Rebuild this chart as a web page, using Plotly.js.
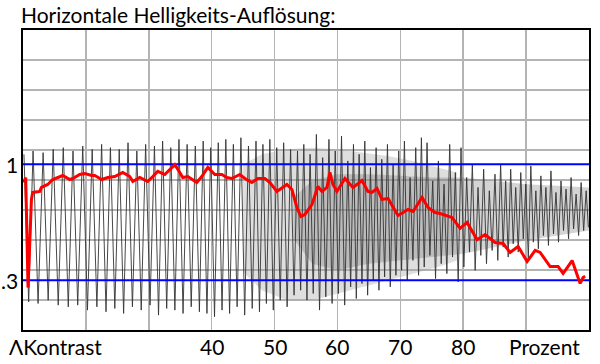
<!DOCTYPE html>
<html>
<head>
<meta charset="utf-8">
<script src="https://cdn.plot.ly/plotly-3.0.1.min.js"></script>
<style>html,body{margin:0;padding:0;background:#fff}#chart{width:600px;height:364px}</style>
</head>
<body>
<div id="chart"></div>
<script>
// Grey test signal: alternating peak / trough extremes (x in Prozent, y = Kontrast)
const sigX = [
  10.15,10.9,11.6,12.4,13.2,14.0,14.8,15.6,16.4,17.2,17.95,18.7,19.5,20.25,21.0,21.75,
  22.5,23.2,23.9,24.6,25.3,26.0,26.7,27.4,28.1,28.8,29.5,30.2,30.9,31.55,32.2,32.85,33.5,34.15,34.8,35.45,36.1,36.75,37.4,38.05,
  38.65,39.25,39.85,40.45,41.05,41.65,42.25,42.85,43.45,44.05,44.65,45.25,45.85,46.45,47.05,47.6,48.15,48.7,49.25,49.8,50.35,50.9,51.45,52.0,52.55,53.1,53.65,
  54.15,54.65,55.15,55.65,56.15,56.65,57.15,57.65,58.15,58.65,59.15,59.65,60.15,60.65,61.15,61.65,62.1,62.55,63.0,63.45,63.9,64.35,64.8,65.25,65.7,66.15,66.6,67.05,67.5,67.95,68.4,68.85,69.3,69.75,
  70.2,70.65,71.1,71.55,72.0,72.45,72.9,73.35,73.8,74.25,74.7,75.15,75.6,76.05,76.5,76.95,77.4,77.85,78.3,78.75,79.2,79.65,80.1,80.55,81.0,81.45,81.9,82.35,82.8,83.25,83.7,84.15,84.6,85.05,85.5,
  85.95,86.35,86.75,87.15,87.55,87.95,88.35,88.75,89.15,89.55,89.95,90.35,90.75,91.15,91.55,91.95,92.35,92.75,93.15,93.55,93.95,94.35,94.75,95.15,95.55,95.95,96.35,96.75,97.15,97.55,97.95,98.35,98.75,99.15,99.55,99.9
];
const sigY = [
  1.06,0.17,1.08,0.16,1.07,0.18,1.09,0.15,1.10,0.14,1.08,0.15,1.11,0.12,1.09,0.14,
  1.12,0.11,1.10,0.13,1.09,0.10,1.13,0.14,1.08,0.12,1.12,0.15,1.11,0.09,1.14,0.13,1.10,0.12,1.15,0.10,1.12,0.14,1.11,0.11,
  1.14,0.10,1.10,0.08,1.13,0.12,1.15,0.10,1.12,0.14,1.16,0.09,1.11,0.13,1.14,0.11,1.12,0.16,1.15,0.12,1.10,0.18,1.13,0.14,1.09,0.21,1.08,
  0.24,1.12,0.18,1.06,0.22,1.18,0.12,1.04,0.20,1.15,0.16,1.08,0.22,1.17,0.15,1.02,0.26,1.12,0.19,1.06,0.28,1.14,0.21,0.98,0.30,1.10,0.24,1.03,0.32,1.12,0.26,1.00,0.33,1.08,
  0.36,1.14,0.30,0.92,0.42,1.10,0.33,1.16,0.38,1.13,0.45,0.90,0.31,1.02,0.40,0.88,0.34,1.12,0.44,0.95,0.29,1.10,0.38,0.92,0.47,1.00,0.36,0.86,0.45,0.97,0.40,0.84,0.48,0.94,0.42,
  1.00,0.50,0.90,0.44,0.97,0.52,0.86,0.47,0.95,0.55,0.88,0.43,0.99,0.53,0.84,0.49,0.93,0.57,0.86,0.51,0.96,0.58,0.83,0.53,0.90,0.60,0.85,0.55,0.92,0.61,0.82,0.57,0.89,0.60,0.84,0.62
];
// Dense (aliased) part of the signal seen as a grey tone: light band and darker band
const lightBandX   = [45, 48, 52, 56, 60, 64, 68, 72, 76, 79];
const lightBandTop = [1.00, 1.06, 1.09, 1.10, 1.09, 1.07, 1.05, 1.02, 0.98, 0.95];
const lightBandBot = [0.35, 0.24, 0.18, 0.18, 0.22, 0.26, 0.30, 0.34, 0.38, 0.42];
const darkBandX   = [53, 56, 60, 65, 70, 75, 80, 85, 90, 95, 100];
const darkBandTop = [0.80, 0.90, 0.94, 0.94, 0.93, 0.92, 0.92, 0.90, 0.88, 0.87, 0.86];
const darkBandBot = [0.55, 0.40, 0.36, 0.40, 0.42, 0.44, 0.46, 0.50, 0.54, 0.57, 0.60];
// Red measured curve
const redX = [10.11,10.43,10.80,11.34,11.54,12.66,12.93,13.93,14.73,15.84,16.32,17.43,17.91,19.02,19.82,20.93,21.41,22.52,23.48,24.59,25.87,26.98,27.46,28.57,29.84,30.64,31.43,32.55,34.14,34.93,35.41,36.21,37.64,38.43,39.39,40.50,41.62,42.41,43.21,44.48,45.28,46.39,47.35,48.46,49.26,50.37,51.33,51.96,52.76,53.55,54.19,54.83,55.94,56.90,57.53,58.33,58.80,59.28,59.92,61.19,62.47,63.90,64.85,65.49,66.29,67.08,68.04,68.83,69.63,70.43,71.22,72.02,73.45,74.40,75.52,76.31,77.11,78.22,79.50,80.61,82.20,83.48,85.07,86.34,87.46,88.73,90.16,91.44,92.23,93.82,95.09,95.89,97.32,98.59,99.07,99.39];
const redY = [0.890,0.920,0.256,0.788,0.830,0.836,0.860,0.878,0.908,0.926,0.932,0.908,0.914,0.938,0.944,0.932,0.932,0.908,0.920,0.926,0.951,0.926,0.896,0.920,0.896,0.926,0.957,0.938,0.998,0.950,0.920,0.926,0.890,0.926,0.981,0.938,0.938,0.920,0.914,0.938,0.914,0.890,0.914,0.914,0.890,0.836,0.860,0.878,0.848,0.739,0.685,0.697,0.757,0.866,0.836,0.860,0.951,0.878,0.836,0.914,0.860,0.902,0.836,0.830,0.854,0.788,0.794,0.745,0.691,0.709,0.727,0.715,0.800,0.739,0.709,0.703,0.691,0.679,0.613,0.649,0.545,0.576,0.528,0.522,0.468,0.504,0.413,0.480,0.468,0.383,0.383,0.341,0.419,0.281,0.317,0.323];
// Blue reference levels
const refLevels = [1, 0.3];
const xRange = [10, 100];
// Tick labels
const xTickVals = [40, 50, 60, 70, 80];
const xTickText = ['40', '50', '60', '70', '80'];
const yTickVals = [1, 0.3];
const yTickText = ['1', '.3'];
const xEndLabels = ['\u039BKontrast', 'Prozent'];

const FONT = 'Lato, "Open Sans", sans-serif';
function band(xs, top, bot, color) {
  return {x: xs.concat(xs.slice().reverse()), y: top.concat(bot.slice().reverse()), mode: 'lines', fill: 'toself', fillcolor: color, line: {width: 0}, hoverinfo: 'skip'};
}
const traces = [];
traces.push(band(lightBandX, lightBandTop, lightBandBot, 'rgba(160,160,160,0.35)'));
traces.push(band(darkBandX, darkBandTop, darkBandBot, 'rgba(100,100,100,0.28)'));
traces.push({x: sigX, y: sigY, mode: 'lines', line: {color: '#333333', width: 0.9}, hoverinfo: 'skip'});
refLevels.forEach(l => traces.push({x: xRange, y: [l, l], mode: 'lines', line: {color: '#0000ff', width: 2}, hoverinfo: 'skip'}));
traces.push({x: redX, y: redY, mode: 'lines', line: {color: '#ff0000', width: 3}, hoverinfo: 'skip'});

const ann = [];
const lblFont = {family: FONT, size: 21, color: '#000'};
xTickVals.forEach((v, i) => ann.push({x: v, y: 0, xref: 'x', yref: 'paper', yanchor: 'top', yshift: -2, text: xTickText[i], showarrow: false, font: lblFont}));
ann.push({x: -16/566, y: 0, xref: 'paper', yref: 'paper', xanchor: 'left', yanchor: 'top', yshift: -2, text: xEndLabels[0], showarrow: false, font: lblFont});
ann.push({x: 93.0, y: 0, xref: 'x', yref: 'paper', xanchor: 'center', yanchor: 'top', yshift: -2, text: xEndLabels[1], showarrow: false, font: lblFont});
yTickVals.forEach((v, i) => ann.push({x: xRange[0], y: v, xref: 'x', yref: 'y', xanchor: 'right', yanchor: 'middle', xshift: -3, text: yTickText[i], showarrow: false, font: lblFont}));

const layout = {
  width: 600, height: 364,
  margin: {l: 23, r: 11, t: 30, b: 34},
  paper_bgcolor: '#fff', plot_bgcolor: '#fff',
  showlegend: false,
  title: {text: 'Horizontale Helligkeits-Auflösung:', xref: 'container', yref: 'container', x: 0.035, xanchor: 'left', y: 1 - 16/364, yanchor: 'middle', font: {family: FONT, size: 21, color: '#000'}},
  xaxis: {range: xRange, tick0: 10, dtick: 10, showgrid: true, gridcolor: '#b4b4b4', gridwidth: 1.5, showticklabels: false, ticks: '', zeroline: false, showline: true, linecolor: '#000', linewidth: 2, mirror: true, fixedrange: true},
  yaxis: {range: [0, 1.81], tick0: 0, dtick: 0.181, showgrid: true, gridcolor: '#b4b4b4', gridwidth: 1.5, showticklabels: false, ticks: '', zeroline: false, showline: true, linecolor: '#000', linewidth: 2, mirror: true, fixedrange: true},
  annotations: ann
};
Plotly.newPlot('chart', traces, layout, {staticPlot: true, displayModeBar: false});
</script>
</body>
</html>
